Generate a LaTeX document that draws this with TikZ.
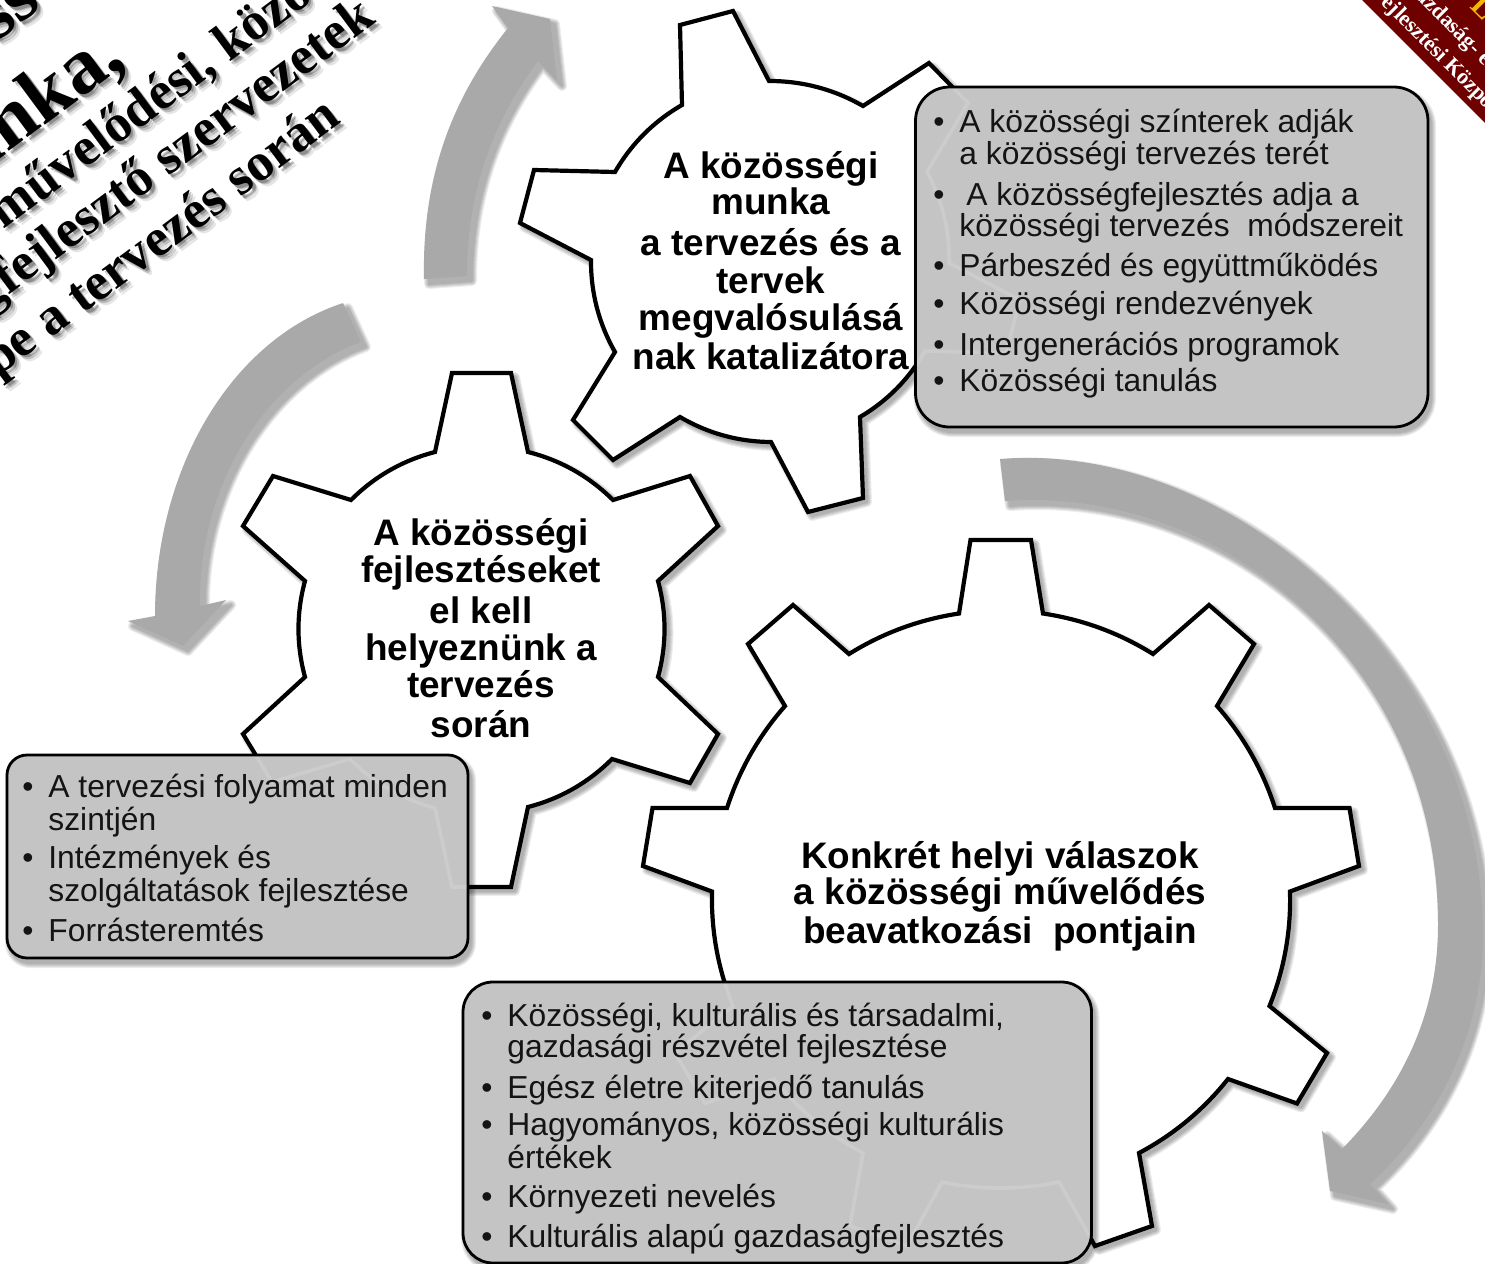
\documentclass[tikz,border=0pt]{standalone}
\usepackage{fontspec}
\setmainfont{Liberation Sans}
\newfontfamily\serifbf[BoldFont={Liberation Serif Bold}]{Liberation Serif}
\definecolor{arrowgray}{HTML}{A9A9A9}
\definecolor{boxgray}{HTML}{C4C4C4}
\definecolor{faintline}{HTML}{CCCCCC}
\definecolor{logored}{HTML}{6E0000}
\definecolor{logoyellow}{HTML}{F2B705}
\tikzset{
  gearline/.style={draw=black,line width=2.1pt,fill=white,line join=miter,miter limit=6},
  boxline/.style={draw=black,line width=1.4pt,fill=boxgray},
  itemtext/.style={anchor=base west,inner sep=0pt,font=\fontsize{15.9}{19}\selectfont,text=black!92},
  geartext/.style={anchor=base,inner sep=0pt,font=\fontsize{18.45}{22}\selectfont\bfseries},
  archA/.style={bend left=15,looseness=.88},
  archB/.style={bend left=15.3,looseness=.88},
  archC/.style={bend left=11.7,looseness=.87}
}
\def\gearA{(680,25) -- (733,11) -- (769,81) to[archA] (863,106) -- (929,63) -- (968,103) -- (927,172) to[archA] (949,263) -- (1020,300) -- (1006,353) -- (925,351) to[archA] (860,417) -- (863,498) -- (808,512) -- (771,442) to[archA] (680,417) -- (613,460) -- (573,420) -- (615,352) to[archA] (591,260) -- (520,223) -- (534,170) -- (615,172) to[archA] (682,105) -- cycle}
\def\gearB{(452,373) -- (511,373) -- (528,452) to[archB] (613,500) -- (690,476) -- (718,526) -- (658,581) to[archB] (658,677) -- (718,734) -- (690,783) -- (612,759) to[archB] (528,807) -- (511,887) -- (452,887) -- (435,808) to[archB] (350,759) -- (272,782) -- (243,734) -- (305,677) to[archB] (305,581) -- (243,526) -- (273,476) -- (351,500) to[archB] (435,452) -- cycle}
\def\gearC{(970.5,540) -- (1031,540) -- (1043,613.5) to[archC] (1153,654) -- (1209,605) -- (1254,644) -- (1217,706) to[archC] (1275,808) -- (1349.5,808) -- (1359,866) -- (1290,891.5) to[archC] (1269.5,1006) -- (1327,1053) -- (1297,1103.5) -- (1228,1079) to[archC] (1139,1153) -- (1152,1226) -- (1095,1246) -- (1059,1182) to[archC] (942,1182) -- (907,1246) -- (850,1226) -- (863,1153) to[archC] (774,1079) -- (705,1103.5) -- (675,1053) -- (733,1006) to[archC] (712,891.5) -- (643,866) -- (652.5,808) -- (727,808) to[archC] (785,706) -- (748,644) -- (793,605) -- (849,654) to[archC] (959,613.5) -- cycle}
\def\arrowA{(1000,459) .. controls (1230,440) and (1483,660) .. (1483,935) .. controls (1483,1030) and (1440,1120) .. (1370,1184) -- (1388,1204) -- (1330,1191) -- (1322,1131) -- (1342,1149) .. controls (1405,1085) and (1438,1010) .. (1438,925) .. controls (1438,660) and (1220,485) .. (1005,501) -- cycle}
\def\arrowB{(424,279) .. controls (422,180) and (450,100) .. (508,28) -- (492,6) -- (550,19) -- (557,81) -- (538,61) .. controls (490,125) and (467,195) .. (467,276) -- cycle}
\def\arrowC{(343,303) .. controls (230,340) and (155,470) .. (155,616) -- (128,621) -- (183,646) -- (226,600) -- (200,606) .. controls (198,480) and (270,375) .. (361,342) -- cycle}
\def\boxA{(915.5,87) rectangle (1428,427)}
\def\boxB{(7,755) rectangle (468,958)}
\def\boxC{(463,982) rectangle (1091.5,1263)}
\newcommand{\softshade}[3][]{%
  \foreach \w in {5,4,3,2,1}{%
    \begin{scope}[transparency group,opacity=.07]
    \path[fill=black,draw=black,line width=\w pt,line join=round,shift={(#2)},#1] #3;
    \end{scope}}}
\newcommand{\titleline}[5]{%
  \node[anchor=base east,inner sep=0pt,rotate=36.5,text=black,text opacity=.10,font=\fontsize{#4}{#4}\selectfont\serifbf\bfseries] (#1s1) at ([shift={(6,6)}]#2,#3) {#5};
  \node[anchor=base east,inner sep=0pt,rotate=36.5,text=black,text opacity=.18,font=\fontsize{#4}{#4}\selectfont\serifbf\bfseries] (#1s2) at ([shift={(4,4)}]#2,#3) {#5};
  \node[anchor=base east,inner sep=0pt,rotate=36.5,text=black,text opacity=.25,font=\fontsize{#4}{#4}\selectfont\serifbf\bfseries] (#1s3) at ([shift={(2.5,2.5)}]#2,#3) {#5};
  \node[anchor=base east,inner sep=0pt,rotate=36.5,text=black,font=\fontsize{#4}{#4}\selectfont\serifbf\bfseries] (#1) at (#2,#3) {#5};}
\begin{document}
\begin{tikzpicture}[x=0.5pt,y=-0.5pt]
\useasboundingbox (0,0) rectangle (1485,1264);
\begin{scope}
\clip (0,0) rectangle (1485,1264);
% logo band
\fill[logored] (1362,0) -- (1485,123) -- (1485,0) -- cycle;
\node[anchor=base,inner sep=0pt,rotate=-45,text=white,font=\fontsize{11}{11}\selectfont\serifbf\bfseries] (logoB) at (1436,59) {Fejlesztési Központ};
\node[anchor=base,inner sep=0pt,rotate=-45,text=white,font=\fontsize{11}{11}\selectfont\serifbf\bfseries] (logoA) at (1447,29) {Gazdaság- és};
\node[anchor=base,inner sep=0pt,rotate=-45,text=logoyellow,font=\fontsize{15}{15}\selectfont\serifbf\bfseries] (logoL) at (1477,15) {L};
% title
\titleline{tZero}{44}{7}{38}{ss}
\titleline{tOne}{128}{64}{40}{munka,}
\titleline{tTwo}{315}{-1}{26.6}{művelődési, közö}
\titleline{tThree}{378}{22}{26.6}{gfejlesztő szervezetek}
\titleline{tFour}{343}{122}{26.6}{pe a tervezés során}
% arrows
\softshade{5,5}{\arrowA}
\softshade{5,5}{\arrowB}
\softshade{5,5}{\arrowC}
\fill[arrowgray] \arrowA;
\fill[arrowgray] \arrowB;
\fill[arrowgray] \arrowC;
% gears
\softshade{4,4}{\gearA}
\softshade{4,4}{\gearB}
\softshade{4,4}{\gearC}
\path[gearline] \gearA;
\path[gearline] \gearB;
\path[gearline] \gearC;
% boxes
\softshade[rounded corners=17pt]{3,5}{\boxA}
\softshade[rounded corners=10pt]{3,5}{\boxB}
\softshade[rounded corners=15pt]{3,5}{\boxC}
\path[boxline,rounded corners=17pt] \boxA;
\path[boxline,rounded corners=10pt] \boxB;
\path[boxline,rounded corners=15pt] \boxC;
\begin{scope}
\clip[rounded corners=17pt] (917,89) rectangle (1426,425);
\draw[faintline,line width=1.8pt] \gearA;
\end{scope}
\begin{scope}
\clip[rounded corners=10pt] (9,757) rectangle (466,956);
\draw[faintline,line width=1.8pt] \gearB;
\end{scope}
\begin{scope}
\clip[rounded corners=15pt] (465,984) rectangle (1089.5,1261);
\draw[faintline,line width=1.8pt] \gearC;
\end{scope}
\end{scope}
% gear texts
\node[geartext] (a1) at (771,178) {A közösségi};
\node[geartext] (a2) at (771,214) {munka};
\node[geartext] (a3) at (771,255) {a tervezés és a};
\node[geartext] (a4) at (771,293) {tervek};
\node[geartext] (a5) at (771,330) {megvalósulásá};
\node[geartext] (a6) at (771,369) {nak katalizátora};
\node[geartext] (b1) at (481,545) {A közösségi};
\node[geartext] (b2) at (481,582) {fejlesztéseket};
\node[geartext] (b3) at (481,623.5) {el kell};
\node[geartext] (b4) at (481,660.5) {helyeznünk a};
\node[geartext] (b5) at (481,697.5) {tervezés};
\node[geartext] (b6) at (481,737) {során};
\node[geartext] (c1) at (1000,868) {Konkrét helyi válaszok};
\node[geartext] (c2) at (1000,904) {a közösségi művelődés};
\node[geartext] (c3) at (1000,943.5) {beavatkozási\ \ pontjain};
% box A
\foreach \n/\y in {1/132.7,3/205,5/276,6/314,7/355,8/391.7}
  \node[itemtext] (ab\n) at (933,\y) {•};
\node[itemtext] (at1) at (959,132.7) {A közösségi színterek adják};
\node[itemtext] (at2) at (959,164) {a közösségi tervezés terét};
\node[itemtext] (at3) at (966,205) {A közösségfejlesztés adja a};
\node[itemtext] (at4) at (959,236.7) {közösségi tervezés\ \ módszereit};
\node[itemtext] (at5) at (959,276) {Párbeszéd és együttműködés};
\node[itemtext] (at6) at (959,314) {Közösségi rendezvények};
\node[itemtext] (at7) at (959,355) {Intergenerációs programok};
\node[itemtext] (at8) at (959,391.7) {Közösségi tanulás};
% box B
\foreach \n/\y in {1/797,3/868,5/941}
  \node[itemtext] (bb\n) at (22,\y) {•};
\node[itemtext] (bt1) at (48,797) {A tervezési folyamat minden};
\node[itemtext] (bt2) at (48,830) {szintjén};
\node[itemtext] (bt3) at (48,868) {Intézmények és};
\node[itemtext] (bt4) at (48,901) {szolgáltatások fejlesztése};
\node[itemtext] (bt5) at (48,941) {Forrásteremtés};
% box C
\foreach \n/\y in {1/1026,3/1098,4/1135,6/1207,7/1247}
  \node[itemtext] (cb\n) at (481,\y) {•};
\node[itemtext] (ct1) at (507,1026) {Közösségi, kulturális és társadalmi,};
\node[itemtext] (ct2) at (507,1057) {gazdasági részvétel fejlesztése};
\node[itemtext] (ct3) at (507,1098) {Egész életre kiterjedő tanulás};
\node[itemtext] (ct4) at (507,1135) {Hagyományos, közösségi kulturális};
\node[itemtext] (ct5) at (507,1168) {értékek};
\node[itemtext] (ct6) at (507,1207) {Környezeti nevelés};
\node[itemtext] (ct7) at (507,1247) {Kulturális alapú gazdaságfejlesztés};
\end{tikzpicture}
\end{document}
